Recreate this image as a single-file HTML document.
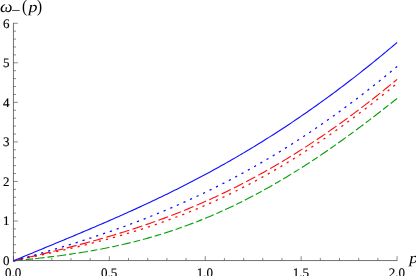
<!DOCTYPE html>
<html><head><meta charset="utf-8"><style>
html,body{margin:0;padding:0;background:#fff;overflow:hidden}
svg{display:block;will-change:transform;transform:translateZ(0)}
.t{text-rendering:geometricPrecision;font-family:"Liberation Serif",serif;font-size:13px;fill:#000}
.l{stroke:#000;stroke-width:0.15px}
.m{text-rendering:geometricPrecision;font-family:"Liberation Serif",serif;font-style:italic;fill:#000}
</style></head><body>
<svg width="416" height="276" viewBox="0 0 416 276">
<rect width="416" height="276" fill="#fff"/>
<path d="M13.45,22.95 V260.91 M13.09,260.55 H397.35" fill="none" stroke="#3a3a3a" stroke-width="0.72"/>
<path d="M13.45,260.55 v-4.4 M32.63,260.55 v-2.6 M51.81,260.55 v-2.6 M70.99,260.55 v-2.6 M90.17,260.55 v-2.6 M109.35,260.55 v-4.4 M128.53,260.55 v-2.6 M147.71,260.55 v-2.6 M166.89,260.55 v-2.6 M186.07,260.55 v-2.6 M205.25,260.55 v-4.4 M224.43,260.55 v-2.6 M243.61,260.55 v-2.6 M262.79,260.55 v-2.6 M281.97,260.55 v-2.6 M301.15,260.55 v-4.4 M320.33,260.55 v-2.6 M339.51,260.55 v-2.6 M358.69,260.55 v-2.6 M377.87,260.55 v-2.6 M397.05,260.55 v-4.4 M13.45,260.55 h4.4 M13.45,252.64 h2.6 M13.45,244.73 h2.6 M13.45,236.82 h2.6 M13.45,228.91 h2.6 M13.45,221.00 h4.4 M13.45,213.09 h2.6 M13.45,205.18 h2.6 M13.45,197.27 h2.6 M13.45,189.36 h2.6 M13.45,181.45 h4.4 M13.45,173.54 h2.6 M13.45,165.63 h2.6 M13.45,157.72 h2.6 M13.45,149.81 h2.6 M13.45,141.90 h4.4 M13.45,133.99 h2.6 M13.45,126.08 h2.6 M13.45,118.17 h2.6 M13.45,110.26 h2.6 M13.45,102.35 h4.4 M13.45,94.44 h2.6 M13.45,86.53 h2.6 M13.45,78.62 h2.6 M13.45,70.71 h2.6 M13.45,62.80 h4.4 M13.45,54.89 h2.6 M13.45,46.98 h2.6 M13.45,39.07 h2.6 M13.45,31.16 h2.6 M13.45,23.25 h4.4" fill="none" stroke="#3a3a3a" stroke-width="0.6"/>
<path d="M13.40,260.90 L15.32,260.71 L17.24,260.52 L19.16,260.32 L21.07,260.13 L22.99,259.93 L24.91,259.73 L26.83,259.53 L28.75,259.32 L30.67,259.12 L32.59,258.91 L34.50,258.70 L36.42,258.49 L38.34,258.27 L40.26,258.06 L42.18,257.83 L44.10,257.61 L46.01,257.38 L47.93,257.15 L49.85,256.92 L51.77,256.68 L53.69,256.44 L55.61,256.20 L57.53,255.95 L59.44,255.70 L61.36,255.44 L63.28,255.18 L65.20,254.91 L67.12,254.65 L69.04,254.37 L70.95,254.09 L72.87,253.81 L74.79,253.52 L76.71,253.23 L78.63,252.93 L80.55,252.63 L82.47,252.32 L84.38,252.01 L86.30,251.69 L88.22,251.36 L90.14,251.03 L92.06,250.70 L93.98,250.36 L95.90,250.01 L97.81,249.66 L99.73,249.30 L101.65,248.93 L103.57,248.56 L105.49,248.18 L107.41,247.80 L109.33,247.41 L111.24,247.01 L113.16,246.61 L115.08,246.20 L117.00,245.78 L118.92,245.36 L120.84,244.93 L122.75,244.49 L124.67,244.04 L126.59,243.59 L128.51,243.13 L130.43,242.67 L132.35,242.19 L134.27,241.71 L136.18,241.22 L138.10,240.73 L140.02,240.23 L141.94,239.71 L143.86,239.20 L145.78,238.67 L147.70,238.14 L149.61,237.60 L151.53,237.05 L153.45,236.49 L155.37,235.92 L157.29,235.35 L159.21,234.77 L161.12,234.18 L163.04,233.58 L164.96,232.98 L166.88,232.36 L168.80,231.74 L170.72,231.11 L172.64,230.47 L174.55,229.82 L176.47,229.17 L178.39,228.51 L180.31,227.83 L182.23,227.15 L184.15,226.46 L186.06,225.76 L187.98,225.06 L189.90,224.34 L191.82,223.62 L193.74,222.89 L195.66,222.15 L197.58,221.40 L199.49,220.64 L201.41,219.87 L203.33,219.09 L205.25,218.31 L207.17,217.52 L209.09,216.71 L211.01,215.90 L212.92,215.08 L214.84,214.25 L216.76,213.42 L218.68,212.57 L220.60,211.72 L222.52,210.85 L224.44,209.98 L226.35,209.10 L228.27,208.21 L230.19,207.31 L232.11,206.40 L234.03,205.48 L235.95,204.56 L237.86,203.62 L239.78,202.68 L241.70,201.72 L243.62,200.76 L245.54,199.79 L247.46,198.81 L249.38,197.83 L251.29,196.83 L253.21,195.82 L255.13,194.81 L257.05,193.79 L258.97,192.76 L260.89,191.72 L262.81,190.67 L264.72,189.61 L266.64,188.55 L268.56,187.47 L270.48,186.39 L272.40,185.30 L274.32,184.20 L276.23,183.09 L278.15,181.97 L280.07,180.85 L281.99,179.71 L283.91,178.57 L285.83,177.42 L287.75,176.26 L289.66,175.10 L291.58,173.92 L293.50,172.74 L295.42,171.55 L297.34,170.35 L299.26,169.14 L301.17,167.93 L303.09,166.70 L305.01,165.47 L306.93,164.23 L308.85,162.99 L310.77,161.73 L312.69,160.47 L314.60,159.20 L316.52,157.93 L318.44,156.64 L320.36,155.35 L322.28,154.05 L324.20,152.75 L326.12,151.43 L328.03,150.11 L329.95,148.79 L331.87,147.45 L333.79,146.11 L335.71,144.76 L337.63,143.41 L339.54,142.04 L341.46,140.68 L343.38,139.30 L345.30,137.92 L347.22,136.53 L349.14,135.14 L351.06,133.74 L352.97,132.33 L354.89,130.92 L356.81,129.50 L358.73,128.07 L360.65,126.64 L362.57,125.21 L364.49,123.77 L366.40,122.32 L368.32,120.87 L370.24,119.41 L372.16,117.94 L374.08,116.48 L376.00,115.00 L377.91,113.52 L379.83,112.04 L381.75,110.55 L383.67,109.06 L385.59,107.56 L387.51,106.06 L389.43,104.55 L391.34,103.04 L393.26,101.52 L395.18,100.00 L397.10,98.48" fill="none" stroke="#08a008" stroke-width="1.12" stroke-dasharray="9.4 2.9 6.7 2.9"/>
<path d="M13.40,260.90 L15.32,260.49 L17.24,260.09 L19.16,259.68 L21.07,259.27 L22.99,258.86 L24.91,258.46 L26.83,258.05 L28.75,257.64 L30.67,257.23 L32.59,256.82 L34.50,256.41 L36.42,256.00 L38.34,255.59 L40.26,255.17 L42.18,254.76 L44.10,254.34 L46.01,253.93 L47.93,253.51 L49.85,253.09 L51.77,252.66 L53.69,252.24 L55.61,251.81 L57.53,251.38 L59.44,250.95 L61.36,250.52 L63.28,250.08 L65.20,249.65 L67.12,249.20 L69.04,248.76 L70.95,248.31 L72.87,247.87 L74.79,247.41 L76.71,246.96 L78.63,246.50 L80.55,246.04 L82.47,245.57 L84.38,245.10 L86.30,244.63 L88.22,244.16 L90.14,243.68 L92.06,243.19 L93.98,242.71 L95.90,242.21 L97.81,241.72 L99.73,241.22 L101.65,240.72 L103.57,240.21 L105.49,239.70 L107.41,239.18 L109.33,238.66 L111.24,238.13 L113.16,237.60 L115.08,237.07 L117.00,236.53 L118.92,235.98 L120.84,235.43 L122.75,234.88 L124.67,234.32 L126.59,233.75 L128.51,233.18 L130.43,232.60 L132.35,232.02 L134.27,231.43 L136.18,230.84 L138.10,230.24 L140.02,229.64 L141.94,229.03 L143.86,228.41 L145.78,227.79 L147.70,227.16 L149.61,226.53 L151.53,225.89 L153.45,225.25 L155.37,224.59 L157.29,223.94 L159.21,223.27 L161.12,222.60 L163.04,221.92 L164.96,221.24 L166.88,220.55 L168.80,219.86 L170.72,219.15 L172.64,218.44 L174.55,217.73 L176.47,217.00 L178.39,216.27 L180.31,215.54 L182.23,214.79 L184.15,214.04 L186.06,213.29 L187.98,212.52 L189.90,211.75 L191.82,210.97 L193.74,210.19 L195.66,209.39 L197.58,208.59 L199.49,207.79 L201.41,206.97 L203.33,206.15 L205.25,205.32 L207.17,204.48 L209.09,203.64 L211.01,202.79 L212.92,201.93 L214.84,201.06 L216.76,200.19 L218.68,199.31 L220.60,198.42 L222.52,197.52 L224.44,196.62 L226.35,195.70 L228.27,194.78 L230.19,193.86 L232.11,192.92 L234.03,191.98 L235.95,191.03 L237.86,190.07 L239.78,189.10 L241.70,188.13 L243.62,187.15 L245.54,186.16 L247.46,185.16 L249.38,184.16 L251.29,183.14 L253.21,182.12 L255.13,181.09 L257.05,180.05 L258.97,179.01 L260.89,177.96 L262.81,176.89 L264.72,175.83 L266.64,174.75 L268.56,173.66 L270.48,172.57 L272.40,171.47 L274.32,170.36 L276.23,169.24 L278.15,168.12 L280.07,166.99 L281.99,165.84 L283.91,164.70 L285.83,163.54 L287.75,162.37 L289.66,161.20 L291.58,160.02 L293.50,158.83 L295.42,157.64 L297.34,156.43 L299.26,155.22 L301.17,154.00 L303.09,152.77 L305.01,151.53 L306.93,150.29 L308.85,149.04 L310.77,147.78 L312.69,146.51 L314.60,145.23 L316.52,143.95 L318.44,142.66 L320.36,141.36 L322.28,140.05 L324.20,138.74 L326.12,137.42 L328.03,136.09 L329.95,134.75 L331.87,133.40 L333.79,132.05 L335.71,130.69 L337.63,129.32 L339.54,127.95 L341.46,126.56 L343.38,125.17 L345.30,123.78 L347.22,122.37 L349.14,120.96 L351.06,119.54 L352.97,118.11 L354.89,116.68 L356.81,115.23 L358.73,113.78 L360.65,112.33 L362.57,110.86 L364.49,109.39 L366.40,107.92 L368.32,106.43 L370.24,104.94 L372.16,103.44 L374.08,101.94 L376.00,100.42 L377.91,98.91 L379.83,97.38 L381.75,95.85 L383.67,94.31 L385.59,92.76 L387.51,91.21 L389.43,89.65 L391.34,88.09 L393.26,86.51 L395.18,84.94 L397.10,83.35" fill="none" stroke="#ff0c0c" stroke-width="1.3" stroke-dasharray="2.2 5.1"/>
<path d="M13.40,260.90 L15.32,260.45 L17.24,259.99 L19.16,259.54 L21.07,259.09 L22.99,258.64 L24.91,258.18 L26.83,257.73 L28.75,257.27 L30.67,256.82 L32.59,256.36 L34.50,255.90 L36.42,255.44 L38.34,254.98 L40.26,254.52 L42.18,254.06 L44.10,253.60 L46.01,253.13 L47.93,252.66 L49.85,252.20 L51.77,251.72 L53.69,251.25 L55.61,250.78 L57.53,250.30 L59.44,249.82 L61.36,249.34 L63.28,248.86 L65.20,248.37 L67.12,247.89 L69.04,247.39 L70.95,246.90 L72.87,246.41 L74.79,245.91 L76.71,245.40 L78.63,244.90 L80.55,244.39 L82.47,243.88 L84.38,243.37 L86.30,242.85 L88.22,242.33 L90.14,241.80 L92.06,241.27 L93.98,240.74 L95.90,240.21 L97.81,239.67 L99.73,239.13 L101.65,238.58 L103.57,238.03 L105.49,237.47 L107.41,236.91 L109.33,236.35 L111.24,235.78 L113.16,235.21 L115.08,234.63 L117.00,234.05 L118.92,233.47 L120.84,232.88 L122.75,232.28 L124.67,231.68 L126.59,231.08 L128.51,230.47 L130.43,229.86 L132.35,229.24 L134.27,228.61 L136.18,227.98 L138.10,227.35 L140.02,226.71 L141.94,226.07 L143.86,225.42 L145.78,224.76 L147.70,224.10 L149.61,223.43 L151.53,222.76 L153.45,222.08 L155.37,221.40 L157.29,220.71 L159.21,220.02 L161.12,219.31 L163.04,218.61 L164.96,217.90 L166.88,217.18 L168.80,216.45 L170.72,215.72 L172.64,214.98 L174.55,214.24 L176.47,213.49 L178.39,212.74 L180.31,211.98 L182.23,211.21 L184.15,210.43 L186.06,209.65 L187.98,208.86 L189.90,208.07 L191.82,207.27 L193.74,206.46 L195.66,205.65 L197.58,204.83 L199.49,204.00 L201.41,203.17 L203.33,202.33 L205.25,201.48 L207.17,200.63 L209.09,199.77 L211.01,198.90 L212.92,198.02 L214.84,197.14 L216.76,196.25 L218.68,195.36 L220.60,194.45 L222.52,193.54 L224.44,192.63 L226.35,191.70 L228.27,190.77 L230.19,189.83 L232.11,188.88 L234.03,187.93 L235.95,186.97 L237.86,186.00 L239.78,185.03 L241.70,184.04 L243.62,183.05 L245.54,182.06 L247.46,181.05 L249.38,180.04 L251.29,179.02 L253.21,177.99 L255.13,176.96 L257.05,175.92 L258.97,174.87 L260.89,173.81 L262.81,172.74 L264.72,171.67 L266.64,170.59 L268.56,169.51 L270.48,168.41 L272.40,167.31 L274.32,166.20 L276.23,165.08 L278.15,163.95 L280.07,162.82 L281.99,161.68 L283.91,160.53 L285.83,159.37 L287.75,158.21 L289.66,157.04 L291.58,155.86 L293.50,154.67 L295.42,153.48 L297.34,152.28 L299.26,151.07 L301.17,149.85 L303.09,148.62 L305.01,147.39 L306.93,146.15 L308.85,144.90 L310.77,143.65 L312.69,142.38 L314.60,141.11 L316.52,139.83 L318.44,138.54 L320.36,137.25 L322.28,135.95 L324.20,134.64 L326.12,133.32 L328.03,132.00 L329.95,130.66 L331.87,129.32 L333.79,127.98 L335.71,126.62 L337.63,125.26 L339.54,123.89 L341.46,122.51 L343.38,121.12 L345.30,119.73 L347.22,118.33 L349.14,116.92 L351.06,115.51 L352.97,114.08 L354.89,112.65 L356.81,111.22 L358.73,109.77 L360.65,108.32 L362.57,106.86 L364.49,105.39 L366.40,103.92 L368.32,102.44 L370.24,100.95 L372.16,99.45 L374.08,97.95 L376.00,96.44 L377.91,94.92 L379.83,93.40 L381.75,91.86 L383.67,90.33 L385.59,88.78 L387.51,87.23 L389.43,85.67 L391.34,84.10 L393.26,82.53 L395.18,80.95 L397.10,79.36" fill="none" stroke="#ff1010" stroke-width="1.12" stroke-dasharray="10.3 3.4"/>
<path d="M13.40,260.90 L15.32,260.38 L17.24,259.85 L19.16,259.32 L21.07,258.80 L22.99,258.27 L24.91,257.73 L26.83,257.20 L28.75,256.67 L30.67,256.13 L32.59,255.59 L34.50,255.05 L36.42,254.50 L38.34,253.96 L40.26,253.41 L42.18,252.86 L44.10,252.31 L46.01,251.75 L47.93,251.20 L49.85,250.64 L51.77,250.08 L53.69,249.51 L55.61,248.94 L57.53,248.37 L59.44,247.80 L61.36,247.22 L63.28,246.65 L65.20,246.06 L67.12,245.48 L69.04,244.89 L70.95,244.30 L72.87,243.71 L74.79,243.11 L76.71,242.51 L78.63,241.91 L80.55,241.30 L82.47,240.69 L84.38,240.07 L86.30,239.46 L88.22,238.83 L90.14,238.21 L92.06,237.58 L93.98,236.95 L95.90,236.31 L97.81,235.67 L99.73,235.03 L101.65,234.38 L103.57,233.73 L105.49,233.07 L107.41,232.41 L109.33,231.75 L111.24,231.08 L113.16,230.41 L115.08,229.73 L117.00,229.05 L118.92,228.37 L120.84,227.68 L122.75,226.98 L124.67,226.29 L126.59,225.58 L128.51,224.87 L130.43,224.16 L132.35,223.45 L134.27,222.72 L136.18,222.00 L138.10,221.27 L140.02,220.53 L141.94,219.79 L143.86,219.04 L145.78,218.29 L147.70,217.54 L149.61,216.78 L151.53,216.01 L153.45,215.24 L155.37,214.46 L157.29,213.68 L159.21,212.90 L161.12,212.10 L163.04,211.31 L164.96,210.50 L166.88,209.70 L168.80,208.88 L170.72,208.07 L172.64,207.24 L174.55,206.41 L176.47,205.58 L178.39,204.74 L180.31,203.89 L182.23,203.04 L184.15,202.18 L186.06,201.32 L187.98,200.45 L189.90,199.57 L191.82,198.69 L193.74,197.81 L195.66,196.91 L197.58,196.02 L199.49,195.11 L201.41,194.20 L203.33,193.29 L205.25,192.36 L207.17,191.44 L209.09,190.50 L211.01,189.56 L212.92,188.62 L214.84,187.66 L216.76,186.70 L218.68,185.74 L220.60,184.77 L222.52,183.79 L224.44,182.81 L226.35,181.82 L228.27,180.82 L230.19,179.82 L232.11,178.81 L234.03,177.79 L235.95,176.77 L237.86,175.74 L239.78,174.71 L241.70,173.67 L243.62,172.62 L245.54,171.57 L247.46,170.50 L249.38,169.44 L251.29,168.36 L253.21,167.28 L255.13,166.20 L257.05,165.10 L258.97,164.00 L260.89,162.89 L262.81,161.78 L264.72,160.66 L266.64,159.53 L268.56,158.40 L270.48,157.26 L272.40,156.11 L274.32,154.95 L276.23,153.79 L278.15,152.62 L280.07,151.45 L281.99,150.27 L283.91,149.08 L285.83,147.88 L287.75,146.68 L289.66,145.47 L291.58,144.25 L293.50,143.03 L295.42,141.80 L297.34,140.56 L299.26,139.32 L301.17,138.06 L303.09,136.81 L305.01,135.54 L306.93,134.27 L308.85,132.99 L310.77,131.70 L312.69,130.41 L314.60,129.11 L316.52,127.80 L318.44,126.48 L320.36,125.16 L322.28,123.83 L324.20,122.50 L326.12,121.15 L328.03,119.80 L329.95,118.44 L331.87,117.08 L333.79,115.71 L335.71,114.33 L337.63,112.94 L339.54,111.55 L341.46,110.15 L343.38,108.74 L345.30,107.33 L347.22,105.90 L349.14,104.48 L351.06,103.04 L352.97,101.60 L354.89,100.15 L356.81,98.69 L358.73,97.22 L360.65,95.75 L362.57,94.27 L364.49,92.79 L366.40,91.29 L368.32,89.79 L370.24,88.28 L372.16,86.77 L374.08,85.25 L376.00,83.72 L377.91,82.18 L379.83,80.64 L381.75,79.09 L383.67,77.53 L385.59,75.97 L387.51,74.39 L389.43,72.81 L391.34,71.23 L393.26,69.63 L395.18,68.03 L397.10,66.43" fill="none" stroke="#0c0cff" stroke-width="1.3" stroke-dasharray="2.2 5.0"/>
<path d="M13.40,260.90 L15.32,260.09 L17.24,259.29 L19.16,258.49 L21.07,257.69 L22.99,256.89 L24.91,256.09 L26.83,255.29 L28.75,254.49 L30.67,253.69 L32.59,252.90 L34.50,252.10 L36.42,251.30 L38.34,250.51 L40.26,249.71 L42.18,248.92 L44.10,248.12 L46.01,247.33 L47.93,246.54 L49.85,245.74 L51.77,244.95 L53.69,244.15 L55.61,243.35 L57.53,242.56 L59.44,241.76 L61.36,240.96 L63.28,240.17 L65.20,239.37 L67.12,238.57 L69.04,237.77 L70.95,236.97 L72.87,236.16 L74.79,235.36 L76.71,234.56 L78.63,233.75 L80.55,232.94 L82.47,232.13 L84.38,231.32 L86.30,230.51 L88.22,229.70 L90.14,228.88 L92.06,228.07 L93.98,227.25 L95.90,226.43 L97.81,225.60 L99.73,224.78 L101.65,223.95 L103.57,223.12 L105.49,222.29 L107.41,221.46 L109.33,220.62 L111.24,219.78 L113.16,218.94 L115.08,218.10 L117.00,217.25 L118.92,216.40 L120.84,215.55 L122.75,214.70 L124.67,213.84 L126.59,212.98 L128.51,212.11 L130.43,211.25 L132.35,210.38 L134.27,209.51 L136.18,208.63 L138.10,207.75 L140.02,206.87 L141.94,205.98 L143.86,205.09 L145.78,204.20 L147.70,203.30 L149.61,202.40 L151.53,201.50 L153.45,200.59 L155.37,199.68 L157.29,198.76 L159.21,197.85 L161.12,196.92 L163.04,196.00 L164.96,195.06 L166.88,194.13 L168.80,193.19 L170.72,192.25 L172.64,191.30 L174.55,190.35 L176.47,189.39 L178.39,188.43 L180.31,187.46 L182.23,186.49 L184.15,185.52 L186.06,184.54 L187.98,183.56 L189.90,182.57 L191.82,181.58 L193.74,180.58 L195.66,179.58 L197.58,178.57 L199.49,177.56 L201.41,176.54 L203.33,175.52 L205.25,174.50 L207.17,173.46 L209.09,172.43 L211.01,171.39 L212.92,170.34 L214.84,169.29 L216.76,168.23 L218.68,167.17 L220.60,166.10 L222.52,165.03 L224.44,163.95 L226.35,162.87 L228.27,161.78 L230.19,160.68 L232.11,159.58 L234.03,158.48 L235.95,157.37 L237.86,156.25 L239.78,155.13 L241.70,154.00 L243.62,152.87 L245.54,151.73 L247.46,150.59 L249.38,149.44 L251.29,148.28 L253.21,147.12 L255.13,145.95 L257.05,144.78 L258.97,143.60 L260.89,142.41 L262.81,141.22 L264.72,140.03 L266.64,138.82 L268.56,137.61 L270.48,136.40 L272.40,135.18 L274.32,133.95 L276.23,132.72 L278.15,131.48 L280.07,130.24 L281.99,128.99 L283.91,127.73 L285.83,126.47 L287.75,125.20 L289.66,123.92 L291.58,122.64 L293.50,121.35 L295.42,120.06 L297.34,118.76 L299.26,117.45 L301.17,116.14 L303.09,114.82 L305.01,113.50 L306.93,112.17 L308.85,110.83 L310.77,109.49 L312.69,108.14 L314.60,106.78 L316.52,105.42 L318.44,104.05 L320.36,102.67 L322.28,101.29 L324.20,99.90 L326.12,98.51 L328.03,97.11 L329.95,95.70 L331.87,94.29 L333.79,92.87 L335.71,91.44 L337.63,90.01 L339.54,88.57 L341.46,87.13 L343.38,85.68 L345.30,84.22 L347.22,82.75 L349.14,81.28 L351.06,79.81 L352.97,78.32 L354.89,76.83 L356.81,75.34 L358.73,73.83 L360.65,72.32 L362.57,70.81 L364.49,69.29 L366.40,67.76 L368.32,66.23 L370.24,64.69 L372.16,63.14 L374.08,61.58 L376.00,60.03 L377.91,58.46 L379.83,56.89 L381.75,55.31 L383.67,53.72 L385.59,52.13 L387.51,50.54 L389.43,48.93 L391.34,47.32 L393.26,45.71 L395.18,44.09 L397.10,42.46" fill="none" stroke="#1010ff" stroke-width="1.12"/>

<text x="13.1" y="276.5" text-anchor="middle" class="t l">0.0</text>
<text x="109.1" y="276.5" text-anchor="middle" class="t l">0.5</text>
<text x="204.9" y="276.5" text-anchor="middle" class="t l">1.0</text>
<text x="300.9" y="276.5" text-anchor="middle" class="t l">1.5</text>
<text x="396.8" y="276.5" text-anchor="middle" class="t l">2.0</text>
<text x="9.5" y="264.9" text-anchor="end" class="t l">0</text>
<text x="9.5" y="225.4" text-anchor="end" class="t l">1</text>
<text x="9.5" y="185.9" text-anchor="end" class="t l">2</text>
<text x="9.5" y="146.3" text-anchor="end" class="t l">3</text>
<text x="9.5" y="106.8" text-anchor="end" class="t l">4</text>
<text x="9.5" y="67.2" text-anchor="end" class="t l">5</text>
<text x="9.5" y="27.7" text-anchor="end" class="t l">6</text>

<text transform="translate(-0.1,11.6) scale(1.08,1)" class="m" font-size="16.4">ω</text>
<rect x="12.1" y="10.1" width="7.6" height="0.7" fill="#000"/>
<text transform="translate(22.1,12.15) scale(0.87,1)" class="t" style="font-size:17.5px">(</text>
<text transform="translate(28.4,11.95) scale(1.18,1)" class="m" font-size="15.2">p</text>
<text transform="translate(36.9,12.15) scale(0.87,1)" class="t" style="font-size:17.5px">)</text>
<text transform="translate(409.2,263.4) scale(1.18,1)" class="m" font-size="15.2">p</text>
</svg>
</body></html>
